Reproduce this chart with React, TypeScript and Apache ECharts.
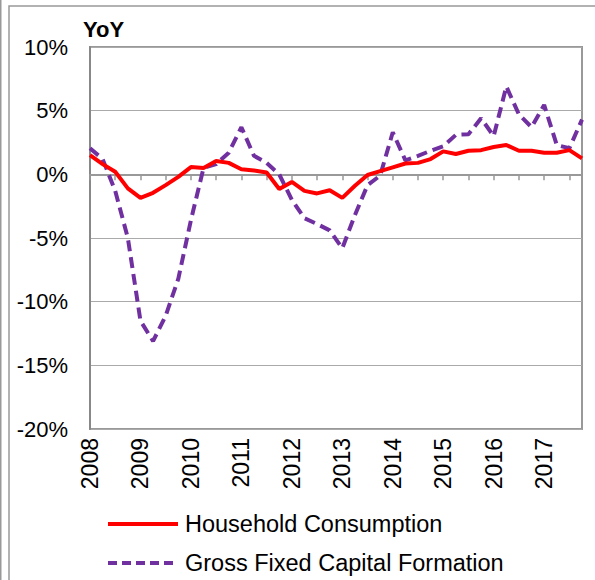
import React, { useEffect, useRef } from "react";
import * as echarts from "echarts";

const quarters: string[] = [];
const years = ["2008", "2009", "2010", "2011", "2012", "2013", "2014", "2015", "2016", "2017"];
for (const y of years) for (const q of ["Q1", "Q2", "Q3", "Q4"]) quarters.push(y + q);

const householdConsumption = [
  1.5, 0.8, 0.2, -1.1, -1.85, -1.45, -0.85, -0.2, 0.57, 0.5,
  1.05, 0.9, 0.4, 0.3, 0.15, -1.15, -0.6, -1.3, -1.5, -1.25,
  -1.85, -0.9, -0.05, 0.25, 0.55, 0.85, 0.9, 1.2, 1.8, 1.6,
  1.85, 1.9, 2.15, 2.3, 1.85, 1.85, 1.7, 1.7, 1.9, 1.25,
];
const grossFixedCapitalFormation = [
  2.05, 1.2, -1.3, -5.0, -11.5, -13.1, -11.1, -8.2, -3.6, 0.5,
  0.8, 1.7, 3.7, 1.45, 0.9, 0.0, -2.0, -3.45, -3.9, -4.4,
  -5.8, -3.2, -0.85, -0.1, 3.3, 1.1, 1.45, 1.85, 2.2, 3.1,
  3.15, 4.4, 3.0, 6.9, 4.7, 3.7, 5.45, 2.3, 2.05, 4.3,
];

const seriesNames = ["Household Consumption", "Gross Fixed Capital Formation"];
const seriesColors = ["#ff0000", "#7030a0"];

const FONT = "'Liberation Sans', Arial, sans-serif";

export default function App() {
  const ref = useRef<HTMLDivElement>(null);
  useEffect(() => {
    document.body.style.margin = "0";
    const chart = echarts.init(ref.current!, undefined, { renderer: "svg" });
    const legendRows = [524, 563];
    const legendGraphics: any[] = [];
    seriesNames.forEach((name, i) => {
      legendGraphics.push({
        type: "line",
        shape: { x1: 108, y1: legendRows[i], x2: 178, y2: legendRows[i] },
        style: {
          stroke: seriesColors[i],
          lineWidth: 4,
          lineDash: i === 1 ? [9, 5] : null,
        },
      });
      legendGraphics.push({
        type: "text",
        x: 185,
        y: legendRows[i],
        style: {
          text: name,
          fontFamily: FONT,
          fontSize: 23.5,
          fill: "#000",
          verticalAlign: "middle",
          align: "left",
        },
      });
    });
    chart.setOption({
      animation: false,
      backgroundColor: "#ffffff",
      textStyle: { fontFamily: FONT },
      title: {
        text: "YoY",
        left: 83,
        top: 18,
        padding: 0,
        textStyle: { fontFamily: FONT, fontSize: 22, fontWeight: "bold", color: "#000" },
      },
      graphic: [
        { type: "line", shape: { x1: 0.75, y1: 0, x2: 0.75, y2: 580 }, style: { stroke: "#999", lineWidth: 1.5 } },
        { type: "rect", shape: { x: 9, y: 6, width: 620, height: 620 }, style: { fill: "none", stroke: "#999", lineWidth: 1.5 } },
        ...legendGraphics,
      ],
      grid: {
        left: 90,
        right: 13,
        top: 47,
        bottom: 151,
        show: true,
        borderColor: "#999",
        borderWidth: 2,
      },
      legend: { show: false },
      xAxis: {
        type: "category",
        data: quarters,
        boundaryGap: false,
        axisLine: { show: true, lineStyle: { color: "#999", width: 2 } },
        axisTick: { show: true, interval: 1, length: 6, lineStyle: { color: "#999", width: 1.5 } },
        axisLabel: {
          interval: 3,
          rotate: 90,
          margin: 9,
          fontSize: 23,
          color: "#000",
          fontFamily: FONT,
          formatter: (v: string) => v.slice(0, 4),
        },
        splitLine: { show: false },
      },
      yAxis: {
        type: "value",
        min: -20,
        max: 10,
        interval: 5,
        axisLine: { show: true, lineStyle: { color: "#888", width: 2 } },
        axisTick: { show: false },
        axisLabel: { formatter: "{value}%", fontSize: 22, color: "#000", margin: 22, fontFamily: FONT },
        splitLine: { show: true, lineStyle: { color: "#aaa", width: 1.2 } },
      },
      series: [
        {
          name: seriesNames[0],
          type: "line",
          data: householdConsumption,
          symbol: "none",
          lineStyle: { color: seriesColors[0], width: 4 },
          itemStyle: { color: seriesColors[0] },
          z: 3,
        },
        {
          name: seriesNames[1],
          type: "line",
          data: grossFixedCapitalFormation,
          symbol: "none",
          lineStyle: { color: seriesColors[1], width: 4, type: [11, 6] },
          itemStyle: { color: seriesColors[1] },
          z: 2,
        },
      ],
    });
    return () => chart.dispose();
  }, []);
  return <div ref={ref} style={{ width: 595, height: 580 }} />;
}
